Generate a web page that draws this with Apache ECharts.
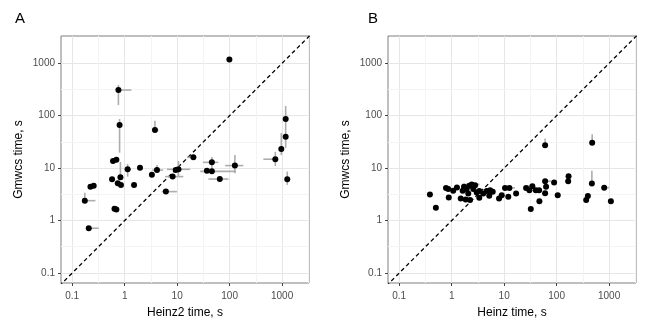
<!DOCTYPE html>
<html>
<head>
<meta charset="utf-8">
<script src="https://cdn.jsdelivr.net/npm/echarts@6/dist/echarts.min.js"></script>
<style>
  html, body { margin: 0; padding: 0; background: #fff; }
  #chart { width: 654px; height: 327px; }
</style>
</head>
<body>
<div id="chart"></div>
<script>
  // panel A: Heinz2 time vs Gmwcs time (s)
  var heinz2A = [0.76, 0.80, 3.78, 0.60, 0.695, 1.14, 1.96, 4.13, 3.3, 9.4, 10.6, 8.2, 6.1, 20.4, 0.575, 0.74, 0.85, 0.83,
    1.51, 0.64, 0.695, 0.174, 0.223, 0.257, 0.207, 45.9, 36.9, 45.9, 65, 126, 743, 966, 1256, 99, 1170, 1170];
  var gmwcsA = [309, 66.5, 53.4, 13.7, 14.5, 9.5, 10.2, 9.2, 7.5, 9.2, 9.5, 6.9, 3.57, 16.1, 6.15, 5.15, 4.8, 6.7,
    4.8, 1.69, 1.63, 2.4, 4.4, 4.6, 0.716, 12.9, 8.96, 8.7, 6.2, 11.2, 14.8, 23.2, 6.15, 1186, 39.8, 86.5];
  // error bars: [point index, x low, x high, y low, y high]
  var barsA = [
    [0, null, 1.34, 160, 385],
    [1, null, null, 19.7, 86.5],
    [2, null, 4.4, null, 80],
    [5, 0.99, 1.32, 6.9, 12.0],
    [7, 3.36, 5.4, null, 11.5],
    [10, 6.4, 17.7, 6.9, 13.7],
    [11, 5.9, 13.1, null, null],
    [12, 5.1, 9.9, null, null],
    [13, 15.4, null, null, null],
    [17, null, null, null, 13.1],
    [21, null, 0.277, null, 3.4],
    [24, null, 0.32, null, null],
    [25, 31, 61, 9.2, 16.3],
    [27, 27.5, 131, null, null],
    [28, 39.5, 95, null, null],
    [29, 82, 183, 8.0, 17.8],
    [30, 439, null, 11, 20.4],
    [31, null, null, 17.8, 46.8],
    [32, null, null, 4.8, 8.6],
    [34, null, null, 24.3, 53],
    [35, null, null, 53, 153]
  ];

  // panel B: Heinz time vs Gmwcs time (s)
  var heinzB = [0.385, 0.50, 0.78, 0.86, 1.07, 0.88, 1.49, 1.72, 1.62, 1.93, 2.17, 2.41, 2.07, 2.58, 1.85, 2.24,
    3.0, 3.36, 3.36, 4.0, 4.66, 5.4, 6.06, 8.0, 9.0, 10.4, 12.6, 12.0, 16.9, 26.2, 30.3, 34.5, 40.1, 46.4, 32.2, 47,
    60.4, 60.4, 63, 60.4, 89.6, 105, 169, 166, 476, 470, 366, 394, 806, 1082, 1.26, 2.8, 5.2];
  var gmwcsB = [3.16, 1.75, 4.2, 4.0, 3.7, 2.77, 2.65, 4.4, 3.7, 4.0, 4.6, 4.9, 3.3, 4.0, 2.53, 2.46,
    3.44, 3.65, 2.72, 3.3, 3.65, 3.8, 3.54, 2.65, 3.06, 4.2, 4.2, 2.84, 3.3, 4.2, 3.8, 4.54, 3.8, 3.8, 1.66, 2.35,
    27.4, 5.65, 4.44, 3.34, 5.34, 3.06, 7.04, 5.65, 30.6, 5.1, 2.46, 2.93, 4.25, 2.35, 4.3, 4.7, 2.97];
  var barsB = [
    [11, 1.6, 3.4, null, null],
    [26, null, 16, null, null],
    [31, 27, null, null, null],
    [36, null, null, null, 36.8],
    [37, null, 78, null, null],
    [44, null, null, null, 44.4],
    [45, null, null, null, 8.9],
    [48, null, 1000, null, null]
  ];

  var tickValues = [0.1, 1, 10, 100, 1000];
  var minorValues = [0.316, 3.16, 31.6, 316, 3162];
  var xRange = [0.0612, 3258];
  var yRange = [0.0646, 3311];
  var diagonal = [0.01, 10000];

  var font = 'Liberation Sans, Arial, sans-serif';

  function barData(xs, ys, bars) {
    return bars.map(function (b) {
      var i = b[0];
      return [xs[i], ys[i], b[1] || xs[i], b[2] || xs[i], b[3] || ys[i], b[4] || ys[i]];
    });
  }

  function renderBars(params, api) {
    var x = api.value(0), y = api.value(1);
    var h0 = api.coord([api.value(2), y]), h1 = api.coord([api.value(3), y]);
    var v0 = api.coord([x, api.value(4)]), v1 = api.coord([x, api.value(5)]);
    var style = { stroke: '#adadad', lineWidth: 1.6 };
    return {
      type: 'group',
      children: [
        { type: 'line', shape: { x1: h0[0], y1: h0[1], x2: h1[0], y2: h1[1] }, style: style },
        { type: 'line', shape: { x1: v0[0], y1: v0[1], x2: v1[0], y2: v1[1] }, style: style }
      ]
    };
  }

  function logAxis(idx, name, range, isX) {
    return {
      type: 'log',
      logBase: 10,
      gridIndex: idx,
      min: range[0],
      max: range[1],
      name: name,
      nameLocation: 'middle',
      nameGap: isX ? 24 : 36,
      nameTextStyle: { fontSize: 12, color: '#000', fontFamily: font },
      axisLine: { show: false },
      axisTick: { show: true, length: 3, customValues: tickValues, lineStyle: { color: '#444', width: 1 } },
      axisLabel: {
        customValues: tickValues,
        margin: isX ? 8 : 6,
        fontSize: 10,
        color: '#4d4d4d',
        fontFamily: font,
        formatter: function (v) { return String(+(+v).toPrecision(3)); }
      },
      splitLine: { show: true, lineStyle: { color: '#e6e6e6', width: 1 } }
    };
  }

  function panelSeries(idx, xs, ys, bars) {
    var minorLines = minorValues.map(function (v) { return { xAxis: v }; })
      .concat(minorValues.slice(0, 4).map(function (v) { return { yAxis: v }; }));
    return [
      {
        type: 'line',
        xAxisIndex: idx, yAxisIndex: idx,
        data: [[diagonal[0], diagonal[0]], [diagonal[1], diagonal[1]]],
        showSymbol: false,
        silent: true,
        z: 2,
        lineStyle: { color: '#000', width: 1.3, type: [4, 3] },
        markLine: {
          silent: true,
          z: 0,
          symbol: 'none',
          label: { show: false },
          lineStyle: { color: '#f4f4f4', width: 1, type: 'solid' },
          data: minorLines
        }
      },
      {
        type: 'custom',
        xAxisIndex: idx, yAxisIndex: idx,
        z: 3,
        silent: true,
        data: barData(xs, ys, bars),
        renderItem: renderBars
      },
      {
        type: 'scatter',
        xAxisIndex: idx, yAxisIndex: idx,
        z: 4,
        silent: true,
        symbol: 'circle',
        symbolSize: 6,
        itemStyle: { color: '#000', opacity: 1 },
        data: xs.map(function (x, i) { return [x, ys[i]]; })
      }
    ];
  }

  var myChart = echarts.init(document.getElementById('chart'));
  myChart.setOption({
    animation: false,
    textStyle: { fontFamily: font },
    title: [
      { text: 'A', left: 10, top: 6, textStyle: { fontSize: 15, fontWeight: 'normal', color: '#000' } },
      { text: 'B', left: 363, top: 6, textStyle: { fontSize: 15, fontWeight: 'normal', color: '#000' } }
    ],
    grid: [
      { left: 61, top: 36, width: 248, height: 247, show: true, borderColor: '#7f7f7f', borderWidth: 1, backgroundColor: 'transparent' },
      { left: 388, top: 36, width: 248, height: 247, show: true, borderColor: '#7f7f7f', borderWidth: 1, backgroundColor: 'transparent' }
    ],
    xAxis: [
      logAxis(0, 'Heinz2 time, s', xRange, true),
      logAxis(1, 'Heinz time, s', xRange, true)
    ],
    yAxis: [
      logAxis(0, 'Gmwcs time, s', yRange, false),
      logAxis(1, 'Gmwcs time, s', yRange, false)
    ],
    series: panelSeries(0, heinz2A, gmwcsA, barsA).concat(panelSeries(1, heinzB, gmwcsB, barsB))
  });
</script>
</body>
</html>
